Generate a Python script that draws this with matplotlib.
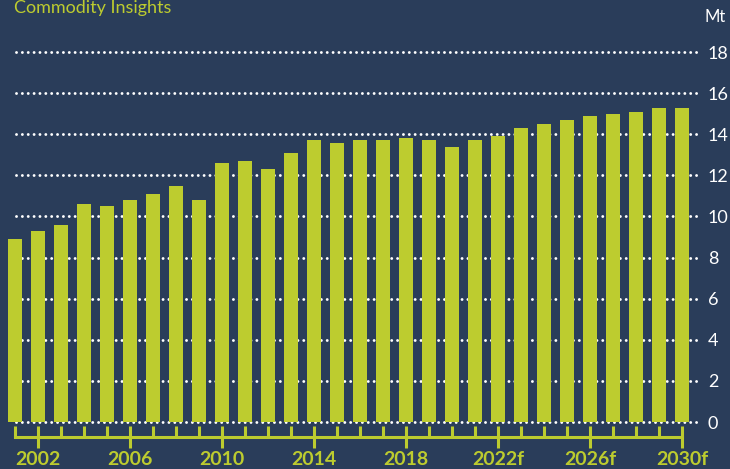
import numpy as np
import matplotlib.pyplot as plt

# values (Mt)
years = list(range(2001, 2031))
values = [8.9, 9.3, 9.6, 10.6, 10.5, 10.8, 11.1, 11.5, 10.8, 12.6,
          12.7, 12.3, 13.1, 13.7, 13.6, 13.7, 13.7, 13.8, 13.7, 13.4,
          13.7, 13.9, 14.3, 14.5, 14.7, 14.9, 15.0, 15.1, 15.3, 15.3]
label_years = [2002, 2006, 2010, 2014, 2018, 2022, 2026, 2030]
label_text = ['2002', '2006', '2010', '2014', '2018', '2022f', '2026f', '2030f']
y_ticks = [0, 2, 4, 6, 8, 10, 12, 14, 16, 18]

bg = '#2a3d5a'
lime = '#bdcc2f'

plt.rcParams['font.family'] = ['Lato', 'DejaVu Sans']

fig = plt.figure(figsize=(7.3, 4.69), dpi=100, facecolor=bg)
ax = fig.add_axes([0, 0, 698 / 730, 1])
ax.set_facecolor(bg)

ax.set_xlim(2001 - 15 / 23, 2001 + 683 / 23)
ax.set_ylim(-47 / 20.55, 422 / 20.55)

# dotted grid lines behind the bars
ax.hlines(y_ticks, 2001 + 1 / 23, ax.get_xlim()[1], colors='white',
          linewidth=2.1, linestyles=[(0, (0.01, 2.0))], capstyle='round', zorder=1)

ax.bar(years, values, width=0.65, color=lime, zorder=2)

for s in ['top', 'left', 'right']:
    ax.spines[s].set_visible(False)
ax.spines['bottom'].set_position(('data', -0.73))
ax.spines['bottom'].set_bounds(2001, 2030)
ax.spines['bottom'].set_color(lime)
ax.spines['bottom'].set_linewidth(2.2)

ax.set_xticks(label_years)
ax.set_xticklabels(label_text)
ax.set_xticks(years, minor=True)
ax.tick_params(axis='x', which='major', direction='inout', length=16, width=2.2,
               color=lime, labelcolor=lime, labelsize=14, pad=2)
ax.tick_params(axis='x', which='minor', direction='in', length=8, width=2.2, color=lime)
for t in ax.get_xticklabels():
    t.set_fontweight('bold')

ax.yaxis.tick_right()
ax.set_yticks(y_ticks)
ax.tick_params(axis='y', length=0, pad=7, labelcolor='white', labelsize=13)

ax.text(1.009, 19.7, 'Mt', transform=ax.get_yaxis_transform(), color='white',
        fontsize=12, ha='left', va='center', clip_on=False)
fig.text(14 / 730, 1 - 13 / 469, 'Commodity Insights', color=lime, fontsize=13,
         ha='left', va='baseline')

fig.savefig('out.png', dpi=100, facecolor=bg)
